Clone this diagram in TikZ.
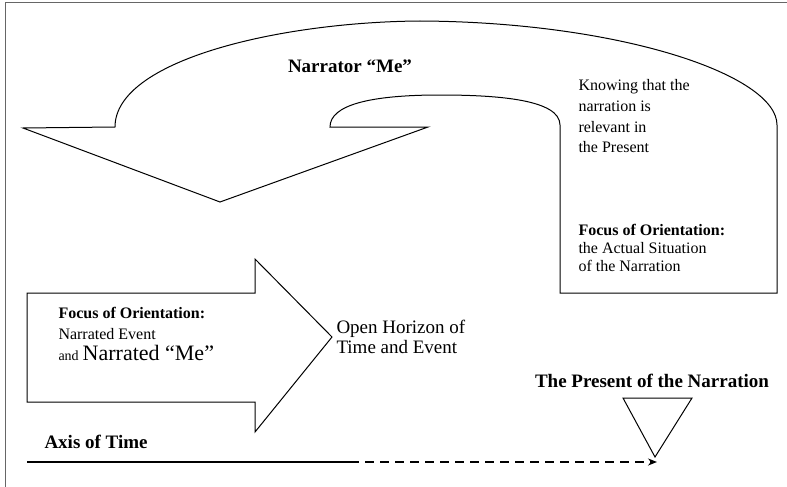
\documentclass[tikz,border=0pt]{standalone}
\usepackage{fontspec}
\setmainfont{Liberation Serif}
\usepackage{tikz}
\usetikzlibrary{arrows.meta,positioning}

\begin{document}
\begin{tikzpicture}[x=1pt,y=-1pt,line width=1pt,>={Stealth[length=9pt,width=7pt]},
  outline/.style={draw,line join=miter},
  txt/.style={inner sep=0pt,align=left,anchor=north west},
  big/.style={font=\bfseries\fontsize{19}{22}\selectfont,inner sep=0pt}]
\useasboundingbox (0,0) rectangle (787,487);
\draw[gray!80!black] (5,487) -- (5,3) -- (787,3);
\draw[outline] (23,128) -- (115,127)
  .. controls (115,60) and (280,22) .. (420,21)
  .. controls (620,22) and (777,75) .. (777,125)
  -- (777,293) -- (560,293) -- (560,125)
  .. controls (560,100) and (500,95) .. (440,95)
  .. controls (370,95) and (330,105) .. (330,127)
  -- (428,127) -- (220,202) -- cycle;
\draw[outline] (27,293) -- (255,293) -- (255,259) -- (332,337)
  -- (255,432) -- (255,402) -- (27,402) -- cycle;
\draw[outline] (623,398) -- (692,398) -- (655,457) -- cycle;
\coordinate (t0) at (27,462);
\coordinate (t1) at (350,462);
\coordinate (now) at (657,462);
\node[big] (narrator) at (350,66) {Narrator “Me”};
\node[txt,font=\fontsize{16}{20.7}\selectfont] (knowing) at (578,79)
  {Knowing that the\\narration is\\relevant in\\the Present};
\node[txt,font=\fontsize{16}{18}\selectfont] (focusR) at (578,224)
  {\textbf{Focus of Orientation:}\\the Actual Situation\\of the Narration};
\node[txt,font=\fontsize{16}{21}\selectfont] (focusL) at (58,307)
  {\textbf{Focus of Orientation:}\\Narrated Event\\{\fontsize{14}{21}\selectfont and}
   {\fontsize{22}{21}\selectfont Narrated “Me”}};
\node[txt,font=\fontsize{19}{20}\selectfont] (horizon) at (336,320)
  {Open Horizon of\\Time and Event};
\node[big] (present) at (652,381) {The Present of the Narration};
\node[big,anchor=west] (axis) at (44,442) {Axis of Time};
\draw[line width=1.6pt] (t0) -- (t1);
\draw[line width=1.8pt,dashed,dash pattern=on 9pt off 6pt,->] (t1) -- (now);
\end{tikzpicture}
\end{document}
